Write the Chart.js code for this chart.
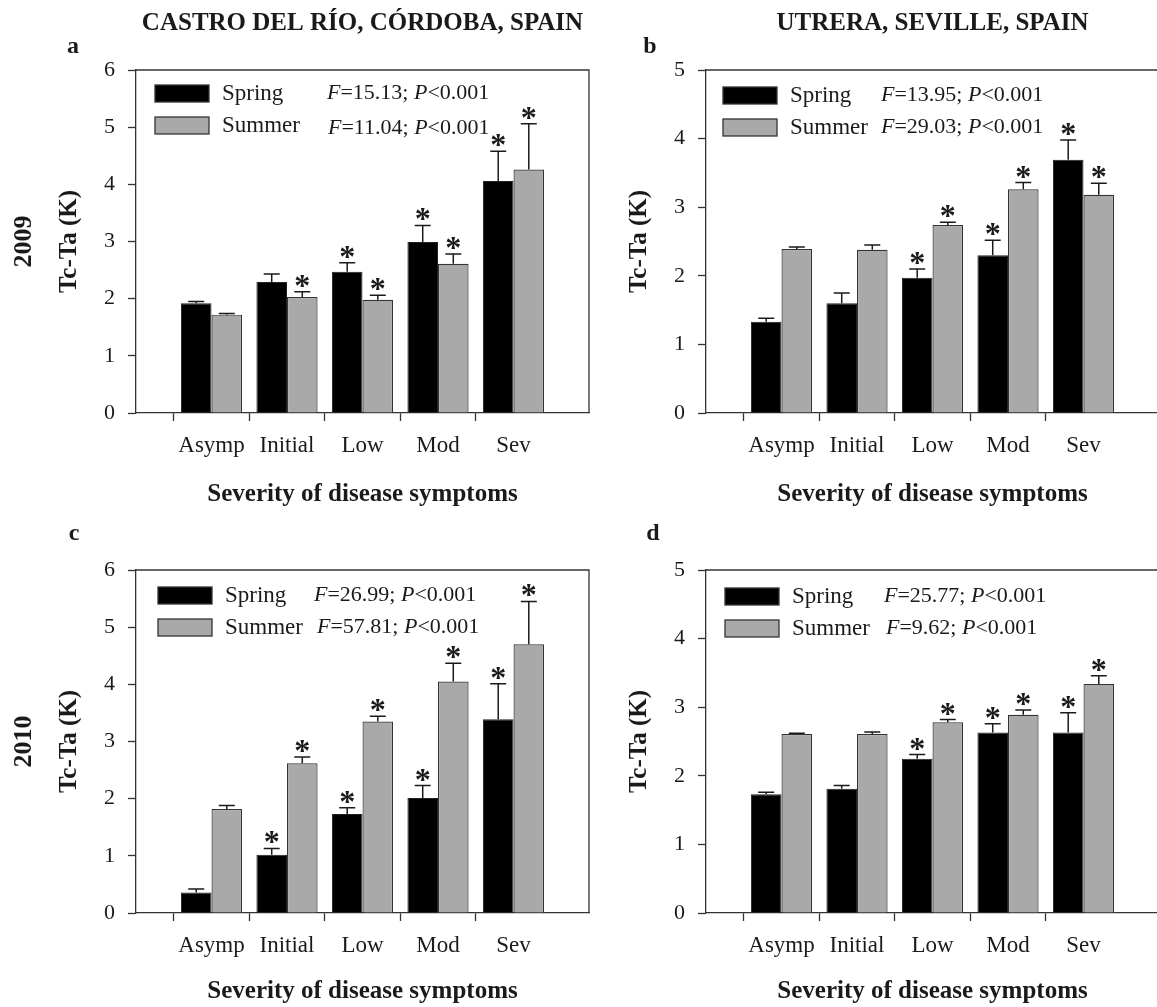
<!DOCTYPE html>
<html>
<head>
<meta charset="utf-8">
<script src="https://cdn.jsdelivr.net/npm/chart.js@4.4.1/dist/chart.umd.min.js"></script>
<style>
  html, body { margin: 0; padding: 0; background: #fff; }
  body { width: 1157px; height: 1007px; position: relative; overflow: hidden; }
  canvas { position: absolute; }
</style>
</head>
<body>
<canvas id="chartA" width="600" height="510" style="left:0;top:0"></canvas>
<canvas id="chartB" width="600" height="510" style="left:570px;top:0"></canvas>
<canvas id="chartC" width="600" height="507" style="left:0;top:500px"></canvas>
<canvas id="chartD" width="600" height="507" style="left:570px;top:500px"></canvas>
<script>
const categories = ['Asymp', 'Initial', 'Low', 'Mod', 'Sev'];
const yTicksCastro = [0, 1, 2, 3, 4, 5, 6];
const yTicksUtrera = [0, 1, 2, 3, 4, 5];

// a - Castro del Rio 2009
const springCastro2009 = [1.92, 2.29, 2.47, 2.99, 4.06];
const springSeCastro2009 = [0.03, 0.14, 0.16, 0.29, 0.52];
const summerCastro2009 = [1.72, 2.03, 1.98, 2.61, 4.26];
const summerSeCastro2009 = [0.02, 0.09, 0.08, 0.17, 0.80];
const springSigCastro2009 = [false, false, true, true, true];
const summerSigCastro2009 = [false, true, true, true, true];
const statsCastro2009 = [['15.13', '0.001'], ['11.04', '0.001']];

// b - Utrera 2009
const springUtrera2009 = [1.33, 1.60, 1.97, 2.30, 3.69];
const springSeUtrera2009 = [0.05, 0.15, 0.13, 0.22, 0.29];
const summerUtrera2009 = [2.39, 2.38, 2.74, 3.26, 3.18];
const summerSeUtrera2009 = [0.03, 0.07, 0.04, 0.10, 0.17];
const springSigUtrera2009 = [false, false, true, true, true];
const summerSigUtrera2009 = [false, false, true, true, true];
const statsUtrera2009 = [['13.95', '0.001'], ['29.03', '0.001']];

// c - Castro del Rio 2010
const springCastro2010 = [0.36, 1.02, 1.73, 2.01, 3.39];
const springSeCastro2010 = [0.06, 0.11, 0.11, 0.22, 0.62];
const summerCastro2010 = [1.82, 2.62, 3.35, 4.05, 4.70];
const summerSeCastro2010 = [0.06, 0.11, 0.09, 0.32, 0.75];
const springSigCastro2010 = [false, true, true, true, true];
const summerSigCastro2010 = [false, true, true, true, true];
const statsCastro2010 = [['26.99', '0.001'], ['57.81', '0.001']];

// d - Utrera 2010
const springUtrera2010 = [1.73, 1.81, 2.25, 2.63, 2.63];
const springSeUtrera2010 = [0.03, 0.05, 0.06, 0.13, 0.29];
const summerUtrera2010 = [2.61, 2.61, 2.78, 2.89, 3.34];
const summerSeUtrera2010 = [0.01, 0.03, 0.04, 0.07, 0.12];
const springSigUtrera2010 = [false, false, true, true, true];
const summerSigUtrera2010 = [false, false, true, true, true];
const statsUtrera2010 = [['25.77', '0.001'], ['9.62', '0.001']];

const serif = "'Liberation Serif', 'Times New Roman', serif";
const ink = '#1a1a1a';
const axisColor = '#333';

// empty slot either side so the groups sit one step in from the frame
const pad = a => [null, ...a, null];

function drawStat(ctx, x, y, f, p) {
  const parts = [['F', true], ['=' + f + '; ', false], ['P', true], ['<' + p, false]];
  let cx = x;
  parts.forEach(([t, it]) => {
    ctx.font = (it ? 'italic ' : '') + '22px ' + serif;
    ctx.fillText(t, cx, y);
    cx += ctx.measureText(t).width;
  });
}

const decor = {
  id: 'decor',
  afterDatasetsDraw(chart) {
    const ctx = chart.ctx;
    const ys = chart.scales.y;
    ctx.save();
    chart.data.datasets.forEach((ds, di) => {
      const meta = chart.getDatasetMeta(di);
      ds.data.forEach((v, i) => {
        if (v == null) return;
        const bar = meta.data[i];
        const capY = ys.getPixelForValue(v + ds.se[i]);
        ctx.strokeStyle = ink;
        ctx.lineWidth = 1.5;
        ctx.beginPath();
        ctx.moveTo(bar.x, bar.y);
        ctx.lineTo(bar.x, capY);
        ctx.moveTo(bar.x - 8, capY);
        ctx.lineTo(bar.x + 8, capY);
        ctx.stroke();
        if (ds.sig[i]) {
          ctx.fillStyle = ink;
          ctx.font = 'bold 32px ' + serif;
          ctx.textAlign = 'center';
          ctx.textBaseline = 'alphabetic';
          ctx.fillText('*', bar.x, capY + 4);
        }
      });
    });
    ctx.restore();
  },
  afterDraw(chart) {
    const o = chart.options.plugins.decor;
    const ctx = chart.ctx;
    const a = chart.chartArea;
    ctx.save();
    // frame top + right
    ctx.strokeStyle = axisColor;
    ctx.lineWidth = 1.3;
    ctx.beginPath();
    ctx.moveTo(a.left, a.top);
    ctx.lineTo(a.right, a.top);
    ctx.lineTo(a.right, a.bottom);
    ctx.stroke();

    ctx.fillStyle = ink;
    // heading
    if (o.heading) {
      ctx.font = 'bold 25px ' + serif;
      ctx.textAlign = 'center';
      ctx.textBaseline = 'middle';
      ctx.fillText(o.heading, (a.left + a.right) / 2, 24);
    }
    // panel letter
    ctx.font = 'bold 24px ' + serif;
    ctx.textAlign = 'center';
    ctx.textBaseline = 'alphabetic';
    ctx.fillText(o.letter, o.letterX, o.letterY);
    // year
    if (o.year) {
      ctx.save();
      ctx.translate(24, (a.top + a.bottom) / 2);
      ctx.rotate(-Math.PI / 2);
      ctx.font = 'bold 26px ' + serif;
      ctx.textAlign = 'center';
      ctx.textBaseline = 'middle';
      ctx.fillText(o.year, 0, 0);
      ctx.restore();
    }
    // legend
    const lx = a.left + o.lx;
    const ly = a.top + o.ly;
    const rows = [
      {ds: chart.data.datasets[0], y: ly, fx: o.fx[0], dy: 0},
      {ds: chart.data.datasets[1], y: ly + 32, fx: o.fx[1], dy: o.dy2 || 0}
    ];
    rows.forEach((r, k) => {
      ctx.fillStyle = r.ds.backgroundColor;
      ctx.fillRect(lx, r.y, 54, 17);
      ctx.strokeStyle = axisColor;
      ctx.lineWidth = 1.3;
      ctx.strokeRect(lx, r.y, 54, 17);
      ctx.fillStyle = ink;
      ctx.textAlign = 'left';
      ctx.textBaseline = 'middle';
      ctx.font = '23px ' + serif;
      ctx.fillText(r.ds.label, lx + 67, r.y + 8.5);
      drawStat(ctx, lx + r.fx, r.y + 8.5 + r.dy, o.stats[k][0], o.stats[k][1]);
    });
    ctx.restore();
  }
};

function makeChart(cfg) {
  const yTicks = cfg.yTicks;
  return new Chart(document.getElementById(cfg.id), {
    type: 'bar',
    data: {
      labels: pad(categories).map(c => c || ''),
      datasets: [
        {
          label: 'Spring',
          data: pad(cfg.spring),
          se: pad(cfg.springSe),
          sig: pad(cfg.springSig),
          backgroundColor: '#000000',
          borderColor: '#222',
          borderWidth: 1
        },
        {
          label: 'Summer',
          data: pad(cfg.summer),
          se: pad(cfg.summerSe),
          sig: pad(cfg.summerSig),
          backgroundColor: '#a9a9a9',
          borderColor: '#333',
          borderWidth: 1.2
        }
      ]
    },
    options: {
      responsive: false,
      animation: false,
      devicePixelRatio: 1,
      layout: { padding: { top: 70, right: 3, left: 0, bottom: 0 } },
      datasets: { bar: { categoryPercentage: 0.81, barPercentage: 1.0 } },
      plugins: {
        legend: { display: false },
        tooltip: { enabled: false },
        decor: cfg.decor
      },
      scales: {
        x: {
          offset: false,
          afterFit: s => { s.height = cfg.xHeight; },
          border: { display: true, color: axisColor, width: 1.3 },
          grid: {
            drawOnChartArea: false,
            drawTicks: true,
            tickLength: 8,
            tickWidth: 1.3,
            tickColor: c => (c.index === 0 || c.index === 6) ? 'rgba(0,0,0,0)' : axisColor
          },
          ticks: {
            color: ink,
            font: { family: serif, size: 23 },
            padding: 11,
            maxRotation: 0,
            autoSkip: false
          },
          title: {
            display: true,
            text: 'Severity of disease symptoms',
            color: ink,
            font: { family: serif, size: 25, weight: 'bold' },
            padding: { top: 0, bottom: 0 }
          }
        },
        y: {
          min: yTicks[0],
          max: yTicks[yTicks.length - 1],
          afterFit: s => { s.width = 136; },
          border: { display: true, color: axisColor, width: 1.3 },
          grid: {
            drawOnChartArea: false,
            drawTicks: true,
            tickLength: 8,
            tickWidth: 1.3,
            tickColor: axisColor
          },
          ticks: {
            stepSize: 1,
            color: ink,
            font: { family: serif, size: 22 },
            padding: 13
          },
          title: {
            display: true,
            text: 'Tc-Ta (K)',
            color: ink,
            font: { family: serif, size: 25, weight: 'bold' },
            padding: { top: 55, bottom: 0 }
          }
        }
      }
    },
    plugins: [decor]
  });
}

makeChart({
  id: 'chartA', yTicks: yTicksCastro, xHeight: 97,
  spring: springCastro2009, springSe: springSeCastro2009, springSig: springSigCastro2009,
  summer: summerCastro2009, summerSe: summerSeCastro2009, summerSig: summerSigCastro2009,
  decor: { heading: 'CASTRO DEL RÍO, CÓRDOBA, SPAIN', letter: 'a', letterX: 73, letterY: 53, year: '2009',
           lx: 19, ly: 15, fx: [172, 173], dy2: 3, stats: statsCastro2009 }
});
makeChart({
  id: 'chartB', yTicks: yTicksUtrera, xHeight: 97,
  spring: springUtrera2009, springSe: springSeUtrera2009, springSig: springSigUtrera2009,
  summer: summerUtrera2009, summerSe: summerSeUtrera2009, summerSig: summerSigUtrera2009,
  decor: { heading: 'UTRERA, SEVILLE, SPAIN', letter: 'b', letterX: 80, letterY: 53,
           lx: 17, ly: 17, fx: [158, 158], stats: statsUtrera2009 }
});
makeChart({
  id: 'chartC', yTicks: yTicksCastro, xHeight: 94,
  spring: springCastro2010, springSe: springSeCastro2010, springSig: springSigCastro2010,
  summer: summerCastro2010, summerSe: summerSeCastro2010, summerSig: summerSigCastro2010,
  decor: { letter: 'c', letterX: 74, letterY: 40, year: '2010',
           lx: 22, ly: 17, fx: [156, 159], stats: statsCastro2010 }
});
makeChart({
  id: 'chartD', yTicks: yTicksUtrera, xHeight: 94,
  spring: springUtrera2010, springSe: springSeUtrera2010, springSig: springSigUtrera2010,
  summer: summerUtrera2010, summerSe: summerSeUtrera2010, summerSig: summerSigUtrera2010,
  decor: { letter: 'd', letterX: 83, letterY: 40,
           lx: 19, ly: 18, fx: [159, 161], stats: statsUtrera2010 }
});
</script>
</body>
</html>
